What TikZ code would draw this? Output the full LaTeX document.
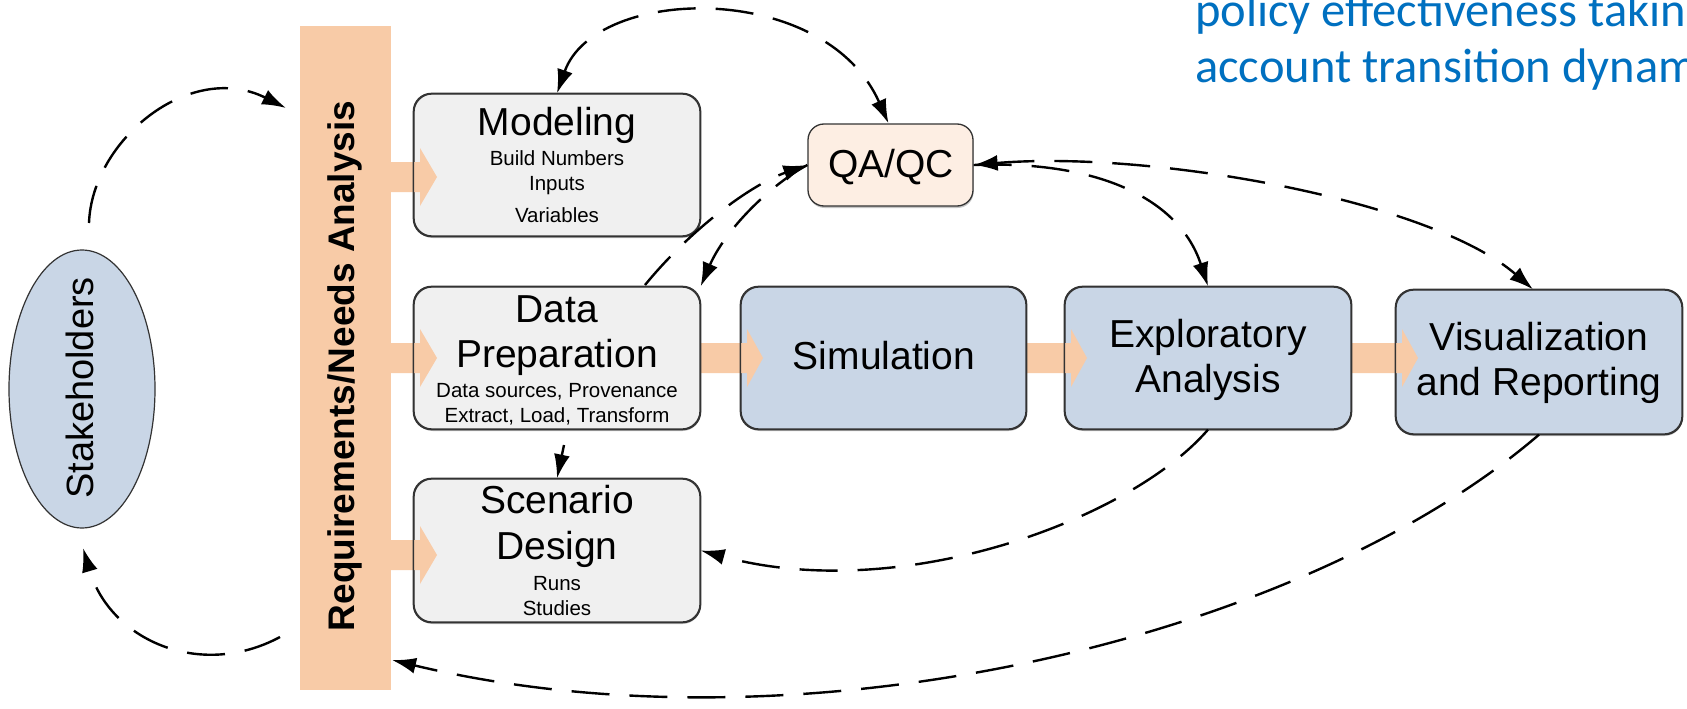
\documentclass[tikz,border=0pt]{standalone}
\usepackage{fontspec}
\setmainfont{Liberation Sans}
\newfontfamily\calibfont{Carlito}
\usetikzlibrary{arrows.meta,shadows,shapes.geometric}
\definecolor{barc}{HTML}{F8CBA7}
\definecolor{greyc}{HTML}{F0F0F0}
\definecolor{bluec}{HTML}{C9D6E6}
\definecolor{qac}{HTML}{FDEEE3}
\definecolor{txtblue}{HTML}{0070C0}
\definecolor{edgec}{HTML}{333333}
\newcommand\titlef{\fontsize{39}{44}\selectfont}
\newcommand\subtxt{\fontsize{20.5}{24}\selectfont}
\newcommand\blockarr[4]{\fill[barc] ({#1},{#4-15}) -- ({#2},{#4-15}) -- ({#2},{#4-29}) -- ({#3},{#4}) -- ({#2},{#4+29}) -- ({#2},{#4+15}) -- ({#1},{#4+15}) -- cycle;}
\begin{document}
\begin{tikzpicture}[x=1pt,y=-1pt,
  box/.style={draw=edgec, line width=1.3pt, rounded corners=18pt, inner sep=0pt,
    minimum width=286pt, minimum height=142pt,
    drop shadow={shadow xshift=0.6pt, shadow yshift=-2pt, fill=black!45}},
  outl/.style={draw=edgec, line width=1.3pt, rounded corners=18pt},
  ttl/.style={anchor=base, inner sep=0pt, font=\titlef},
  sub/.style={anchor=base, inner sep=0pt, font=\subtxt},
  dconn/.style={line width=2.4pt, dash pattern=on 38pt off 20pt, -{Latex[length=24pt,width=16pt]}},
  dconnb/.style={line width=2.4pt, dash pattern=on 38pt off 20pt, {Latex[length=24pt,width=16pt]}-{Latex[length=24pt,width=16pt]}}
]
\clip (0,0) rectangle (1687,709);
\fill[white] (0,0) rectangle (1687,709);

% requirements bar
\node[fill=barc, minimum width=91pt, minimum height=664pt, inner sep=0pt] (bar) at (345.5,358) {};

% stakeholders
\node[ellipse, draw=edgec, line width=1.2pt, fill=bluec, minimum width=146pt, minimum height=278pt, inner sep=0pt] (stake) at (82,389) {};

% boxes
\node[box, fill=greyc] (model) at (557,165) {};
\node[box, fill=greyc] (prep) at (557,358) {};
\node[box, fill=greyc, minimum height=143pt] (scen) at (557,550.5) {};
\node[box, fill=bluec, minimum width=285pt] (sim) at (883.5,358) {};
\node[box, fill=bluec] (expl) at (1208,358) {};
\node[box, fill=bluec, minimum height=144pt] (vis) at (1539,362) {};
\node[box, fill=qac, minimum width=165pt, minimum height=82pt, rounded corners=16pt] (qa) at (890.5,165) {};

% block arrows
\blockarr{391}{420}{437}{177}
\blockarr{391}{420}{437}{358}
\blockarr{391}{420}{437}{555}
\blockarr{700}{747}{763}{358}
\blockarr{1026}{1071}{1087}{358}
\blockarr{1351}{1402}{1418}{358}

% outlines over the arrows
\foreach \n in {model,prep,scen,sim,expl,vis}
  \draw[outl] (\n.south west) rectangle (\n.north east);

% texts
\node[rotate=90, inner sep=0pt, font=\bfseries\fontsize{37}{40}\selectfont] (reqt) at (345,366) {Requirements/Needs Analysis};
\node[rotate=90, inner sep=0pt, font=\fontsize{38}{40}\selectfont] (staket) at (80,388) {Stakeholders};

\node[ttl] (mt) at (557,135) {Modeling};
\node[sub] (m1) at (557,165) {Build Numbers};
\node[sub] (m2) at (557,190) {Inputs};
\node[sub] (m3) at (557,222) {Variables};

\node[ttl] (pt1) at (557,322) {Data};
\node[ttl] (pt2) at (557,367) {Preparation};
\node[sub] (p1t) at (557,397) {Data sources, Provenance};
\node[sub] (p2t) at (557,422) {Extract, Load, Transform};

\node[ttl] (st1) at (557,513) {Scenario};
\node[ttl] (st2) at (557,559) {Design};
\node[sub] (s1t) at (557,590) {Runs};
\node[sub] (s2t) at (557,615) {Studies};

\node[ttl] (qat) at (891,177) {QA/QC};
\node[ttl] (simt) at (884,369) {Simulation};
\node[ttl] (et1) at (1208,347) {Exploratory};
\node[ttl] (et2) at (1208,392) {Analysis};
\node[ttl] (vt1) at (1539,350) {Visualization};
\node[ttl] (vt2) at (1539,395) {and Reporting};

\node[anchor=base west, inner sep=0pt, text=txtblue, font=\calibfont\fontsize{48.5}{52}\selectfont] (pol1) at (1195,27) {policy effectiveness takin};
\node[anchor=base west, inner sep=0pt, text=txtblue, font=\calibfont\fontsize{48.5}{52}\selectfont] (pol2) at (1195,83) {account transition dynam};

% free ends of connectors
\coordinate (s1) at (89,223);
\coordinate (r1) at (286,108);
\coordinate (r2) at (280,637);
\coordinate (s2) at (83,548);
\coordinate (p1) at (645,285);
\coordinate (p2) at (564,445);
\coordinate (r3) at (392,660);

% dashed connectors
\draw[dconn] (s1) .. controls (92,140) and (190,60) .. (r1);
\draw[dconn] (r2) .. controls (200,680) and (110,640) .. (s2);
\draw[dconnb] (model.north) .. controls (595,-15) and (825,-20) .. ([xshift=-2pt]qa.north);
\draw[dconn] (p1) .. controls (690,230) and (750,185) .. (qa.west);
\draw[dconn] (qa.west) .. controls (770,185) and (725,230) .. (prep.north east);
\draw[dconnb] (qa.east) .. controls (1150,150) and (1430,200) .. ([xshift=-6pt]vis.north);
\draw[dconn] (qa.east) .. controls (1100,160) and (1180,200) .. (expl.north);
\draw[dconn] (expl.south) .. controls (1130,520) and (900,605) .. (scen.east);
\draw[dconn] (vis.south) .. controls (1300,640) and (800,758) .. (r3);
\draw[dconn] (p2) -- (scen.north);
\end{tikzpicture}
\end{document}
